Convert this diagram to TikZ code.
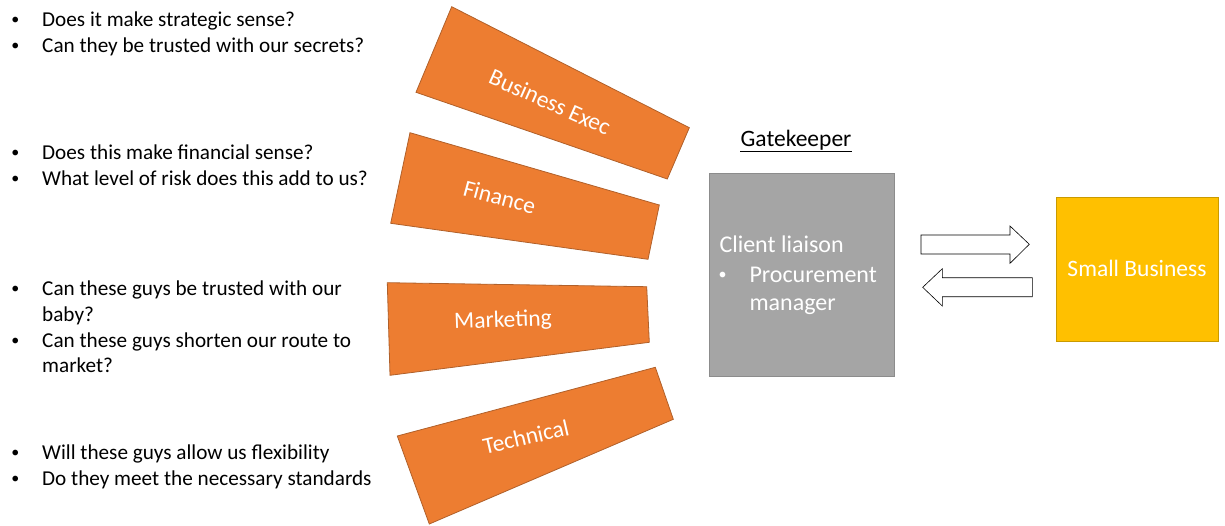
\documentclass[tikz,border=0pt]{standalone}
\usepackage{fontspec}
\setmainfont{Carlito}
\definecolor{orng}{HTML}{ED7D31}
\definecolor{orngb}{HTML}{B0602A}
\definecolor{gry}{HTML}{A5A5A5}
\definecolor{gryb}{HTML}{8C8C8C}
\definecolor{yel}{HTML}{FFC000}
\definecolor{yelb}{HTML}{C99A00}
\begin{document}
\begin{tikzpicture}[x=1pt,y=-1pt,
  panel/.style={fill=orng,draw=orngb,line width=0.8pt},
  plabel/.style={text=white,font=\fontsize{23.5}{28}\selectfont,inner sep=0},
  qline/.style={anchor=base west,inner sep=0,font=\fontsize{21.2}{25}\selectfont},
  bul/.style={anchor=base,inner sep=0,font=\fontsize{16}{18}\selectfont},
  wline/.style={anchor=base west,inner sep=0,text=white,font=\fontsize{24}{29}\selectfont},
  blockarrow/.style={fill=white,draw=black,line width=0.6pt}]
\useasboundingbox (0,0) rectangle (1225,525);

% question lists
\node[bul] (b1) at (15.3,24) {•};
\node[qline] (q1) at (42,26) {Does it make strategic sense?};
\node[bul] (b2) at (15.3,50) {•};
\node[qline] (q2) at (42,52) {Can they be trusted with our secrets?};
\node[bul] (b3) at (15.3,157.5) {•};
\node[qline] (q3) at (42,159.5) {Does this make financial sense?};
\node[bul] (b4) at (15.3,183) {•};
\node[qline] (q4) at (42,185) {What level of risk does this add to us?};
\node[bul] (b5) at (15.3,293) {•};
\node[qline] (q5) at (42,295) {Can these guys be trusted with our};
\node[qline] (q5b) at (42,321) {baby?};
\node[bul] (b6) at (15.3,345) {•};
\node[qline] (q6) at (42,347) {Can these guys shorten our route to};
\node[qline] (q6b) at (42,372.5) {market?};
\node[bul] (b7) at (15.3,457.3) {•};
\node[qline] (q7) at (42,459.3) {Will these guys allow us flexibility};
\node[bul] (b8) at (15.3,483) {•};
\node[qline] (q8) at (42,485) {Do they meet the necessary standards};

% orange panels
\draw[panel] (451.7,6.7) -- (689.3,127.7) -- (667.3,179) -- (416,92.3) -- cycle;
\draw[panel] (410,132.7) -- (659.3,205) -- (648,259.3) -- (390.7,223.3) -- cycle;
\draw[panel] (387.3,282.7) -- (646.7,286.7) -- (649.3,342.3) -- (390,375.3) -- cycle;
\draw[panel] (397.3,436) -- (655.3,367.3) -- (673.3,419.3) -- (429.3,524) -- cycle;
\node[plabel,rotate=-24] (exec) at (550,102) {Business Exec};
\node[plabel,rotate=-15] (fin) at (499.7,197) {Finance};
\node[plabel,rotate=2] (mkt) at (503,321) {Marketing};
\node[plabel,rotate=13] (tech) at (526,437) {Technical};

% gatekeeper
\node[anchor=base,inner sep=0,font=\fontsize{23.5}{28}\selectfont] (gk) at (796,146.7) {Gatekeeper};
\draw[line width=1.3pt] ([yshift=-4.5pt]gk.base west) -- ([yshift=-4.5pt]gk.base east);
\node[draw=gryb,fill=gry,line width=0.8pt,minimum width=185pt,minimum height=203.4pt,inner sep=0] (gate) at (801.8,275) {};
\node[wline] (cl) at (719.3,252.7) {Client liaison};
\node[bul,text=white] (b9) at (722.7,279.5) {•};
\node[wline] (pm) at (749.3,282) {Procurement};
\node[wline] (pm2) at (749.3,310.5) {manager};

% small business
\node[draw=yelb,fill=yel,line width=0.8pt,minimum width=162.3pt,minimum height=143.7pt,inner sep=0] (sb) at (1137.2,269.2) {};
\node[anchor=base,inner sep=0,text=white,font=\fontsize{23.5}{28}\selectfont] (sbt) at (1137,276.7) {Small Business};

% block arrows
\draw[blockarrow] (921,235) -- (1010,235) -- (1010,226) -- (1029.3,244.3) -- (1010,263.3) -- (1010,254) -- (921,254) -- cycle;
\draw[blockarrow] (1032.3,277.7) -- (942.3,277.7) -- (942.3,268.7) -- (922.7,287.3) -- (942.3,306) -- (942.3,296.7) -- (1032.3,296.7) -- cycle;
\end{tikzpicture}
\end{document}
